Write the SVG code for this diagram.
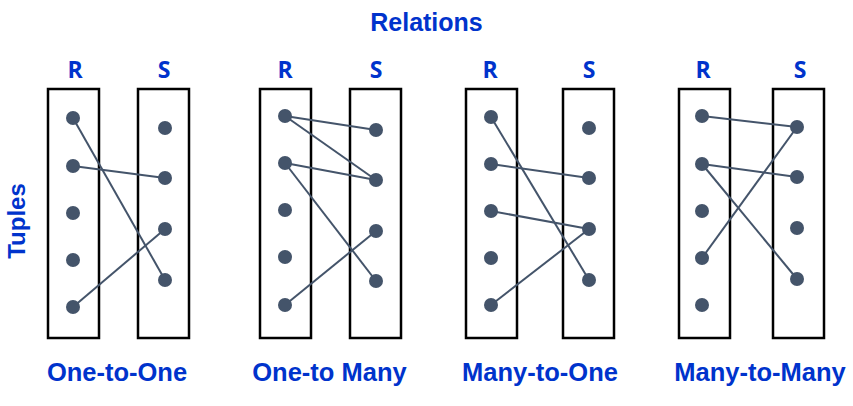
<svg xmlns="http://www.w3.org/2000/svg" width="853" height="406" viewBox="0 0 853 406">
<style>
.t{font-family:"Liberation Sans",Arial,sans-serif;font-weight:bold;fill:#0033CC;text-anchor:middle}
.rs{font-family:"Open Sans","Liberation Sans",sans-serif;font-weight:bold;fill:#0033CC;text-anchor:middle;font-size:23px}
.box{fill:none;stroke:#000;stroke-width:2.5}
.d{fill:#44546A}
.c line{stroke:#44546A;stroke-width:2}
</style>
<rect width="853" height="406" fill="#fff"/>
<text class="t" x="426.5" y="31" font-size="25">Relations</text>
<text class="t" x="25" y="221" font-size="24" transform="rotate(-90 25 221)">Tuples</text>

<g id="panel1">
<text class="rs" x="75" y="78">R</text>
<text class="rs" x="164" y="78">S</text>
<rect class="box" x="48" y="89" width="51" height="249"/>
<rect class="box" x="138" y="89" width="51" height="249"/>
<g class="c">
<line x1="73" y1="118" x2="165" y2="280"/>
<line x1="73" y1="166" x2="165" y2="178"/>
<line x1="73" y1="307" x2="165" y2="229"/>
</g>
<g class="d">
<circle cx="73" cy="118" r="7"/><circle cx="73" cy="166" r="7"/><circle cx="73" cy="213" r="7"/><circle cx="73" cy="260" r="7"/><circle cx="73" cy="307" r="7"/>
<circle cx="165" cy="128" r="7"/><circle cx="165" cy="178" r="7"/><circle cx="165" cy="229" r="7"/><circle cx="165" cy="280" r="7"/>
</g>
<text class="t" x="117" y="381" font-size="25.5">One-to-One</text>
</g>

<g id="panel2">
<text class="rs" x="285" y="78">R</text>
<text class="rs" x="376" y="78">S</text>
<rect class="box" x="260" y="89" width="51" height="249"/>
<rect class="box" x="350" y="89" width="51" height="249"/>
<g class="c">
<line x1="285" y1="116" x2="376" y2="130"/>
<line x1="285" y1="116" x2="376" y2="180"/>
<line x1="285" y1="163" x2="376" y2="180"/>
<line x1="285" y1="163" x2="376" y2="281"/>
<line x1="285" y1="305" x2="376" y2="231"/>
</g>
<g class="d">
<circle cx="285" cy="116" r="7"/><circle cx="285" cy="163" r="7"/><circle cx="285" cy="210" r="7"/><circle cx="285" cy="257" r="7"/><circle cx="285" cy="305" r="7"/>
<circle cx="376" cy="130" r="7"/><circle cx="376" cy="180" r="7"/><circle cx="376" cy="231" r="7"/><circle cx="376" cy="281" r="7"/>
</g>
<text class="t" x="329.5" y="381" font-size="25.5">One-to Many</text>
</g>

<g id="panel3">
<text class="rs" x="490" y="78">R</text>
<text class="rs" x="589" y="78">S</text>
<rect class="box" x="466" y="89" width="51" height="249"/>
<rect class="box" x="563" y="89" width="51" height="249"/>
<g class="c">
<line x1="491" y1="117" x2="589" y2="280"/>
<line x1="491" y1="164" x2="589" y2="178"/>
<line x1="491" y1="211" x2="589" y2="229"/>
<line x1="491" y1="305" x2="589" y2="229"/>
</g>
<g class="d">
<circle cx="491" cy="117" r="7"/><circle cx="491" cy="164" r="7"/><circle cx="491" cy="211" r="7"/><circle cx="491" cy="258" r="7"/><circle cx="491" cy="305" r="7"/>
<circle cx="589" cy="128" r="7"/><circle cx="589" cy="178" r="7"/><circle cx="589" cy="229" r="7"/><circle cx="589" cy="280" r="7"/>
</g>
<text class="t" x="540" y="381" font-size="25.5">Many-to-One</text>
</g>

<g id="panel4">
<text class="rs" x="703" y="78">R</text>
<text class="rs" x="800" y="78">S</text>
<rect class="box" x="679" y="89" width="51" height="249"/>
<rect class="box" x="773" y="89" width="51" height="249"/>
<g class="c">
<line x1="702" y1="116" x2="797" y2="127"/>
<line x1="702" y1="258" x2="797" y2="127"/>
<line x1="702" y1="164" x2="797" y2="177"/>
<line x1="702" y1="164" x2="797" y2="279"/>
</g>
<g class="d">
<circle cx="702" cy="116" r="7"/><circle cx="702" cy="164" r="7"/><circle cx="702" cy="211" r="7"/><circle cx="702" cy="258" r="7"/><circle cx="702" cy="305" r="7"/>
<circle cx="797" cy="127" r="7"/><circle cx="797" cy="177" r="7"/><circle cx="797" cy="228" r="7"/><circle cx="797" cy="279" r="7"/>
</g>
<text class="t" x="760" y="381" font-size="25.5">Many-to-Many</text>
</g>
</svg>
